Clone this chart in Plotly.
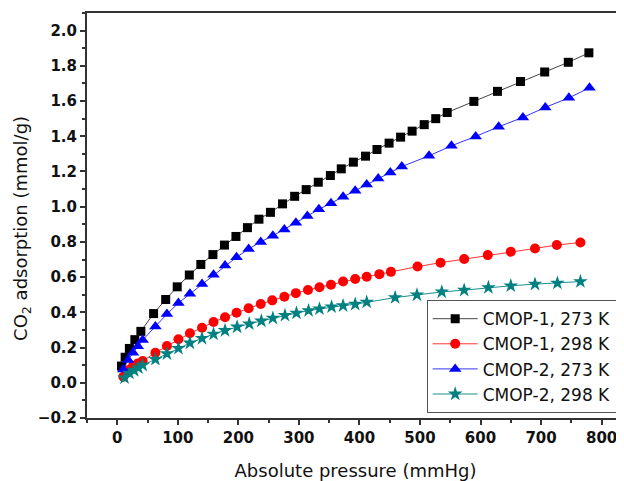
import plotly.graph_objects as go

# CMOP-1, 273 K
x1 = [7, 13, 20, 29, 39, 60, 80, 99, 119, 138, 158, 177, 196, 215, 234, 253, 273, 293, 312, 332, 352, 370, 390, 410, 429, 449, 468, 487, 507, 526, 545, 589, 628, 666, 706, 745, 779]
y1 = [0.095, 0.145, 0.195, 0.245, 0.292, 0.393, 0.473, 0.545, 0.612, 0.672, 0.728, 0.782, 0.831, 0.881, 0.929, 0.968, 1.016, 1.059, 1.097, 1.139, 1.177, 1.215, 1.253, 1.287, 1.325, 1.361, 1.395, 1.429, 1.466, 1.5, 1.535, 1.598, 1.655, 1.711, 1.765, 1.82, 1.874]

# CMOP-1, 298 K
x2 = [10, 19, 26, 34, 42, 63, 82, 101, 120, 140, 159, 178, 197, 217, 237, 256, 276, 295, 315, 334, 353, 373, 393, 412, 433, 452, 496, 534, 573, 612, 650, 690, 726, 765]
y2 = [0.034, 0.072, 0.095, 0.11, 0.124, 0.171, 0.209, 0.247, 0.281, 0.313, 0.345, 0.372, 0.398, 0.423, 0.447, 0.468, 0.489, 0.509, 0.527, 0.543, 0.557, 0.575, 0.589, 0.602, 0.617, 0.63, 0.66, 0.682, 0.703, 0.725, 0.744, 0.763, 0.782, 0.797]

# CMOP-2, 273 K
x3 = [10, 18, 26, 34, 42, 63, 82, 101, 120, 140, 159, 178, 197, 217, 237, 257, 276, 295, 314, 333, 353, 373, 393, 412, 431, 451, 470, 515, 552, 592, 630, 670, 707, 746, 780]
y3 = [0.075, 0.13, 0.17, 0.207, 0.243, 0.32, 0.39, 0.453, 0.505, 0.561, 0.614, 0.666, 0.713, 0.76, 0.8, 0.835, 0.87, 0.909, 0.947, 0.985, 1.02, 1.056, 1.09, 1.126, 1.16, 1.194, 1.228, 1.289, 1.346, 1.399, 1.454, 1.507, 1.564, 1.618, 1.675]

# CMOP-2, 298 K
x4 = [12, 20, 28, 35, 42, 63, 82, 101, 120, 140, 159, 178, 198, 218, 238, 257, 277, 296, 316, 334, 354, 373, 393, 412, 459, 495, 536, 573, 613, 650, 690, 727, 765]
y4 = [0.028, 0.055, 0.07, 0.085, 0.1, 0.133, 0.165, 0.196, 0.226, 0.252, 0.277, 0.297, 0.317, 0.335, 0.351, 0.367, 0.383, 0.396, 0.41, 0.42, 0.431, 0.438, 0.446, 0.458, 0.484, 0.499, 0.516, 0.526, 0.541, 0.551, 0.56, 0.566, 0.575]

names = ["CMOP-1, 273 K", "CMOP-1, 298 K", "CMOP-2, 273 K", "CMOP-2, 298 K"]
xs = [x1, x2, x3, x4]
ys = [y1, y2, y3, y4]
colors = ["#000000", "#ff0000", "#0000ff", "#008080"]
linecolors = ["#444444", "#ff3333", "#3333ff", "#1a8f8f"]
symbols = ["square", "circle", "triangle-up", "star"]
sizes = [9, 10, 11, 11]

fig = go.Figure()
for x, y, n, c, lc, s, sz in zip(xs, ys, names, colors, linecolors, symbols, sizes):
    fig.add_trace(go.Scatter(
        x=x, y=y, name=n, mode="lines+markers",
        line=dict(color=lc, width=1),
        marker=dict(color=c, symbol=s, size=sz, line=dict(width=0)),
    ))

axis_font = dict(family="DejaVu Sans", size=15, color="#111111", weight="bold")

fig.update_layout(
    width=616, height=473,
    margin=dict(l=79, r=0, t=5, b=63, autoexpand=False),
    paper_bgcolor="white", plot_bgcolor="white",
    showlegend=True,
    legend=dict(
        x=0.9864, y=0.291, xanchor="right", yanchor="top",
        bgcolor="white", bordercolor="#555555", borderwidth=1,
        font=dict(family="DejaVu Sans", size=17, color="#111111"),
        tracegroupgap=0, itemwidth=45,
    ),
    xaxis=dict(
        range=[-50, 837], tickmode="linear", tick0=0, dtick=100,
        showgrid=False, zeroline=False, automargin=False,
        showline=True, linecolor="#333333", linewidth=2, mirror=True,
        ticks="outside", ticklen=5, tickwidth=1.5, tickcolor="#333333",
        tickfont=axis_font,
        minor=dict(dtick=50, tick0=0, ticks="outside", ticklen=3, tickwidth=1.5, tickcolor="#333333", showgrid=False),
        title=dict(text="Absolute pressure (mmHg)", font=dict(family="DejaVu Sans", size=18, color="#111111"), standoff=20),
    ),
    yaxis=dict(
        range=[-0.2, 2.1], tickmode="linear", tick0=0, dtick=0.2, tickformat=".1f",
        showgrid=False, zeroline=False, automargin=False,
        showline=True, linecolor="#333333", linewidth=2, mirror=False,
        ticks="outside", ticklen=5, tickwidth=1.5, tickcolor="#333333",
        tickfont=axis_font,
        minor=dict(dtick=0.1, tick0=0, ticks="outside", ticklen=3, tickwidth=1.5, tickcolor="#333333", showgrid=False),
    ),
    annotations=[dict(
        text="CO<sub>2</sub> adsorption (mmol/g)", textangle=-90,
        xref="paper", yref="paper", x=-0.121, y=0.467,
        xanchor="center", yanchor="middle", showarrow=False,
        font=dict(family="DejaVu Sans", size=18, color="#111111"),
    )],
)

fig.write_html("out.html")
